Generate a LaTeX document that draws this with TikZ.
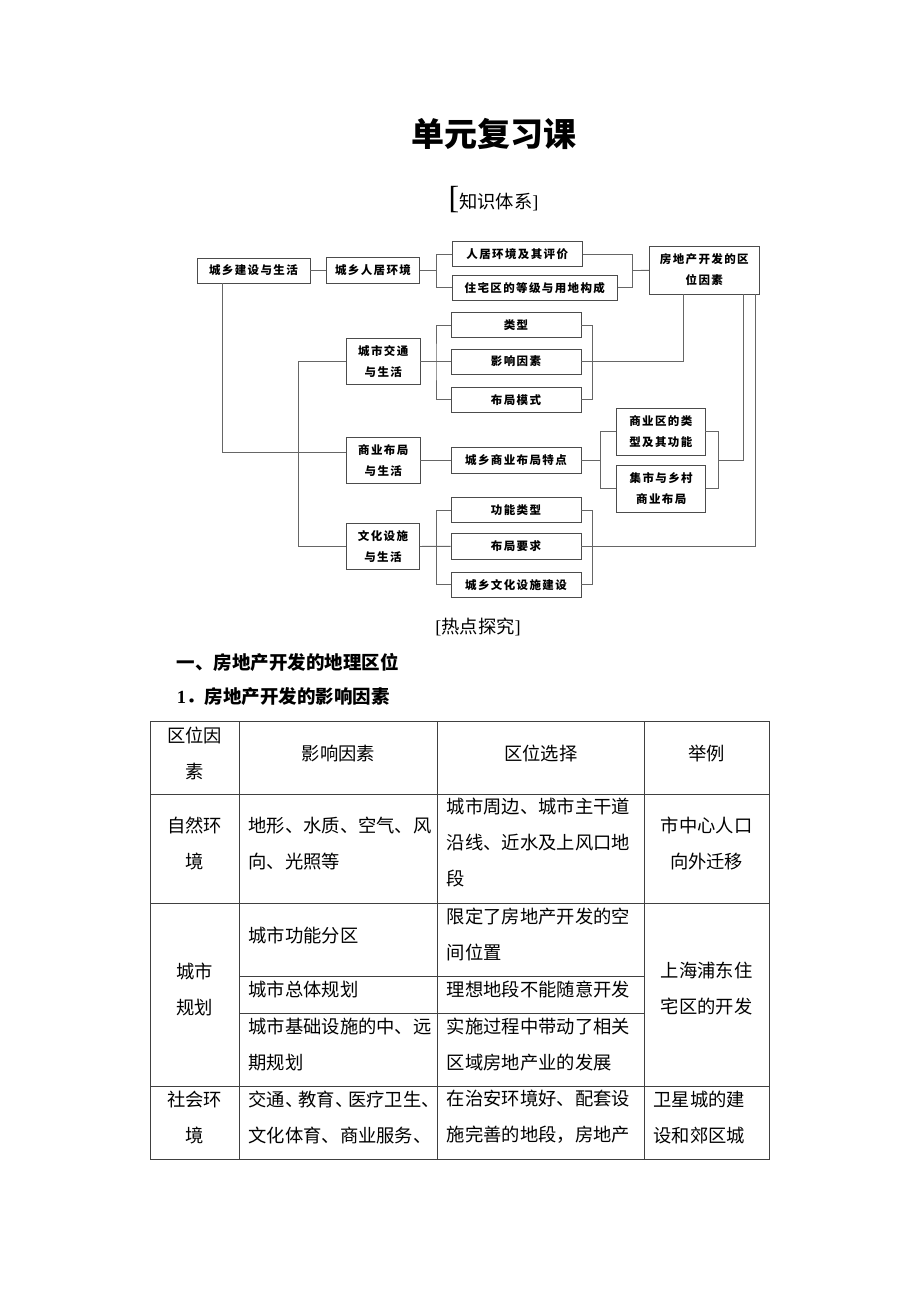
\documentclass[tikz,border=0pt]{standalone}
\usepackage{fontspec}
\setmainfont{Liberation Serif}
\newfontfamily\cjk{Noto Sans CJK SC}
\newfontfamily\boxfont[LetterSpace=12]{Noto Sans CJK SC}
\usetikzlibrary{calc}

\begin{document}
\begin{tikzpicture}[x=1pt,y=-1pt]
        % Define the styles for boxes, links and the table
        \tikzset{
            kbox/.style={draw=black!70, line width=0.9pt, inner sep=0pt, align=center,
                font={\boxfont\bfseries\fontsize{11.5}{21}\selectfont}},
            link/.style={draw=black!60, line width=0.9pt},
            tline/.style={draw=black!75, line width=0.8pt},
            cell/.style={anchor=west, inner sep=0pt, align=left,
                font={\cjk\fontsize{18.3}{36}\selectfont}},
            cellc/.style={inner sep=0pt, align=center,
                font={\cjk\fontsize{18.3}{36}\selectfont}},
            head/.style={anchor=west, inner sep=0pt,
                font={\cjk\bfseries\fontsize{18.5}{22}\selectfont}}
        }

        % Page frame
        \useasboundingbox (0,0) rectangle (920,1302);

        % Titles
        \node[font={\cjk\bfseries\fontsize{33}{36}\selectfont}] (title) at (494,134) {单元复习课};
        \node[font={\cjk\fontsize{18.3}{22}\selectfont}, inner sep=0pt] (zstx) at (493.5,200)
            {{\rmfamily\fontsize{32}{32}\selectfont[}知识体系{\rmfamily]}};

        % Boxes of the knowledge map
        \node[kbox, minimum width=113pt, minimum height=25pt] (jsjs) at (253.5,270.5) {城乡建设与生活};
        \node[kbox, minimum width=93pt, minimum height=26pt] (rjhj) at (373,270.5) {城乡人居环境};
        \node[kbox, minimum width=130pt, minimum height=25pt] (pj) at (517.3,254.2) {人居环境及其评价};
        \node[kbox, minimum width=165pt, minimum height=25.7pt] (zzq) at (534.8,287.8) {住宅区的等级与用地构成};
        \node[kbox, minimum width=110pt, minimum height=48pt] (fdc) at (704.3,270) {房地产开发的区\\位因素};

        \node[kbox, minimum width=73.3pt, minimum height=46.7pt] (jt) at (383.3,361.5) {城市交通\\与生活};
        \node[kbox, minimum width=130pt, minimum height=24.6pt] (lx) at (516,325) {类型};
        \node[kbox, minimum width=130pt, minimum height=25pt] (yx) at (516,361.5) {影响因素};
        \node[kbox, minimum width=130pt, minimum height=25pt] (ms) at (516,399.8) {布局模式};

        \node[kbox, minimum width=73.3pt, minimum height=46.7pt] (sy) at (383.3,460.5) {商业布局\\与生活};
        \node[kbox, minimum width=130pt, minimum height=25.7pt] (tedian) at (516,460.5) {城乡商业布局特点};
        \node[kbox, minimum width=88.3pt, minimum height=46.7pt] (gn) at (660.8,431.7) {商业区的类\\型及其功能};
        \node[kbox, minimum width=89pt, minimum height=47.7pt] (jsh) at (661.2,488.8) {集市与乡村\\商业布局};

        \node[kbox, minimum width=72.6pt, minimum height=46.7pt] (wh) at (383,546.5) {文化设施\\与生活};
        \node[kbox, minimum width=130pt, minimum height=25pt] (gnlx) at (516,510.2) {功能类型};
        \node[kbox, minimum width=130pt, minimum height=25.7pt] (yq) at (516,546.3) {布局要求};
        \node[kbox, minimum width=130pt, minimum height=25pt] (wsjs) at (516,584.8) {城乡文化设施建设};

        % Coordinates for the bracket spines
        \coordinate (b1l) at (436.7,270.5);
        \coordinate (b1r) at (632.7,270.5);
        \coordinate (b2l) at (436,361.5);
        \coordinate (b2r) at (592.3,361.5);
        \coordinate (b3l) at (600.7,460.5);
        \coordinate (b3r) at (718.3,460.5);
        \coordinate (b4l) at (436.7,546.5);
        \coordinate (b4r) at (592.3,546.5);
        \coordinate (trk) at (298.7,546.5);

        % Links
        \draw[link] (jsjs) -- (rjhj);
        \draw[link] (rjhj) -- (b1l);
        \draw[link] (pj.west) -| (b1l) |- (zzq.west);
        \draw[link] (pj.east) -| (b1r) |- (zzq.east);
        \draw[link] (b1r) -- (fdc);
        \draw[link] (yx.east) -| ([xshift=-21pt]fdc.south);
        \draw[link] (jt) -- (yx);
        \draw[link] (lx.west) -| (b2l) |- (ms.west);
        \draw[link] (lx.east) -| (b2r) |- (ms.east);
        \draw[link] ([xshift=-31.5pt]jsjs.south) |- ([yshift=8.2pt]sy.west);
        \draw[link] (jt.west) -| (trk) -- (wh.west);
        \draw[link] (sy) -- (tedian);
        \draw[link] (tedian) -- (b3l);
        \draw[link] (gn.west) -| (b3l) |- (jsh.west);
        \draw[link] (gn.east) -| (b3r) |- (jsh.east);
        \draw[link] (b3r) -| ([xshift=39pt]fdc.south);
        \draw[link] (wh) -- (yq);
        \draw[link] (gnlx.west) -| (b4l) |- (wsjs.west);
        \draw[link] (gnlx.east) -| (b4r) |- (wsjs.east);
        \draw[link] (yq.east) -| ([xshift=50.7pt]fdc.south);

        % Section headings
        \node[font={\cjk\fontsize{18.3}{22}\selectfont}, inner sep=0pt] (rdtj) at (478,627) {{\rmfamily[}热点探究{\rmfamily]}};
        \node[head] (sec1) at (176.7,662) {一、房地产开发的地理区位};
        \node[head] (sec11) at (176.7,697) {{\rmfamily\bfseries 1}．房地产开发的影响因素};

        % Table grid
        \draw[tline] (150,721.7) rectangle (769,1159);
        \foreach \x in {239.3,437.3,644.3}
            \draw[tline] (\x,721.7) -- (\x,1159);
        \foreach \y in {794,903.3,1086}
            \draw[tline] (150,\y) -- (769,\y);
        \foreach \y in {976,1013.3}
            \draw[tline] (239.3,\y) -- (644.3,\y);

        % Table header
        \node[cellc] (h1) at (194.6,753.3) {区位因\\素};
        \node[cellc] (h2) at (338.3,753.3) {影响因素};
        \node[cellc] (h3) at (540.8,753.3) {区位选择};
        \node[cellc] (h4) at (706.6,753.3) {举例};

        % Row: natural environment
        \node[cellc] (r1c1) at (194.6,843.3) {自然环\\境};
        \node[cell] (r1c2) at (248.3,843.3) {地形、水质、空气、风\\向、光照等};
        \node[cell] (r1c3) at (446.7,842.5) {城市周边、城市主干道\\沿线、近水及上风口地\\段};
        \node[cellc] (r1c4) at (706.6,843.8) {市中心人口\\向外迁移};

        % Row: city planning
        \node[cellc] (r2c1) at (194.6,989.2) {城市\\规划};
        \node[cell] (r2ac2) at (248.3,935) {城市功能分区};
        \node[cell] (r2ac3) at (446.7,934.2) {限定了房地产开发的空\\间位置};
        \node[cell] (r2bc2) at (248.3,989.3) {城市总体规划};
        \node[cell] (r2bc3) at (446.7,989.3) {理想地段不能随意开发};
        \node[cell] (r2cc2) at (248.3,1044.2) {城市基础设施的中、远\\期规划};
        \node[cell] (r2cc3) at (446.7,1044.2) {实施过程中带动了相关\\区域房地产业的发展};
        \node[cellc] (r2c4) at (706.6,988.7) {上海浦东住\\宅区的开发};

        % Row: social environment
        \node[cellc] (r3c1) at (194.6,1117.2) {社会环\\境};
        \node[cell] (r3c2) at (248.3,1117.2) {交通、\kern-5pt 教育、\kern-5pt 医疗卫生、\kern-5pt\\文化体育、商业服务、};
        \node[cell] (r3c3) at (446.7,1117.2) {在治安环境好、配套设\\施完善的地段，房地产};
        \node[cell] (r3c4) at (653.3,1117.2) {卫星城的建\\设和郊区城};

    \end{tikzpicture}
\end{document}
